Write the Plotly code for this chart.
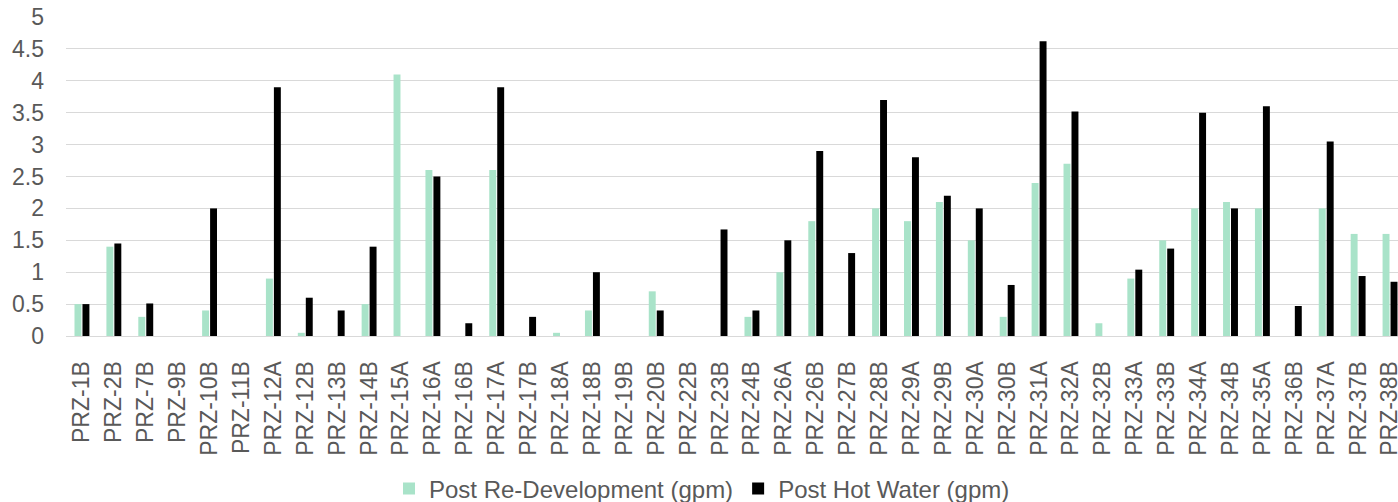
import plotly.graph_objects as go

categories = ["PRZ-1B", "PRZ-2B", "PRZ-7B", "PRZ-9B", "PRZ-10B", "PRZ-11B", "PRZ-12A", "PRZ-12B",
              "PRZ-13B", "PRZ-14B", "PRZ-15A", "PRZ-16A", "PRZ-16B", "PRZ-17A", "PRZ-17B", "PRZ-18A",
              "PRZ-18B", "PRZ-19B", "PRZ-20B", "PRZ-22B", "PRZ-23B", "PRZ-24B", "PRZ-26A", "PRZ-26B",
              "PRZ-27B", "PRZ-28B", "PRZ-29A", "PRZ-29B", "PRZ-30A", "PRZ-30B", "PRZ-31A", "PRZ-32A",
              "PRZ-32B", "PRZ-33A", "PRZ-33B", "PRZ-34A", "PRZ-34B", "PRZ-35A", "PRZ-36B", "PRZ-37A",
              "PRZ-37B", "PRZ-38B"]

post_redevelopment = [0.5, 1.4, 0.3, 0, 0.4, 0, 0.9, 0.05,
                      0, 0.5, 4.1, 2.6, 0, 2.6, 0, 0.05,
                      0.4, 0, 0.7, 0, 0, 0.3, 1.0, 1.8,
                      0, 2.0, 1.8, 2.1, 1.5, 0.3, 2.4, 2.7,
                      0.2, 0.9, 1.5, 2.0, 2.1, 2.0, 0, 2.0,
                      1.6, 1.6]

post_hot_water = [0.5, 1.45, 0.51, 0, 2.0, 0, 3.9, 0.6,
                  0.4, 1.4, 0, 2.5, 0.2, 3.9, 0.3, 0,
                  1.0, 0, 0.4, 0, 1.67, 0.4, 1.5, 2.9,
                  1.3, 3.7, 2.8, 2.2, 2.0, 0.8, 4.62, 3.52,
                  0, 1.04, 1.37, 3.5, 2.0, 3.6, 0.47, 3.05,
                  0.94, 0.85]

y_ticks = [0, 0.5, 1, 1.5, 2, 2.5, 3, 3.5, 4, 4.5, 5]
y_tick_text = ["0", "0.5", "1", "1.5", "2", "2.5", "3", "3.5", "4", "4.5", "5"]

font_family = "Liberation Sans, Arial, sans-serif"
text_color = "#595959"

fig_w, fig_h = 1398, 502

fig = go.Figure()
fig.add_trace(go.Bar(name="Post Re-Development (gpm)", x=categories, y=post_redevelopment,
                     marker=dict(color="#A9E3C9", line=dict(width=0))))
fig.add_trace(go.Bar(name="Post Hot Water (gpm)", x=categories, y=post_hot_water,
                     marker=dict(color="#000000", line=dict(width=0))))

fig.update_layout(
    width=fig_w, height=fig_h,
    margin=dict(l=66, r=0, t=16, b=166, autoexpand=False),
    barmode="group", bargap=0.5, bargroupgap=0.13,
    plot_bgcolor="white", paper_bgcolor="white",
    font=dict(family=font_family, size=23, color=text_color),
    showlegend=True,
    legend=dict(orientation="h", xref="container", x=389 / fig_w, xanchor="left",
                yref="container", y=13 / fig_h, yanchor="middle",
                font=dict(size=24, color=text_color), itemwidth=30,
                traceorder="normal", bgcolor="rgba(0,0,0,0)"),
    xaxis=dict(type="category", range=[-0.5, 41.25], tickangle=-90, automargin=False,
               showline=True, linecolor="#D9D9D9", linewidth=1,
               ticks="", showgrid=False, ticklabelstandoff=15,
               tickfont=dict(size=23, color=text_color)),
    yaxis=dict(range=[0, 5.0157], tickvals=y_ticks, ticktext=y_tick_text, automargin=False,
               showgrid=True, gridcolor="#D9D9D9", gridwidth=1,
               zeroline=False, showline=False, ticks="",
               ticklabelstandoff=21, ticklabeloverflow="allow",
               tickfont=dict(size=23, color=text_color)),
)

fig.write_html("out.html",
               config={"displayModeBar": False},
               post_script="document.body.style.margin='0';document.body.style.overflow='hidden';")
